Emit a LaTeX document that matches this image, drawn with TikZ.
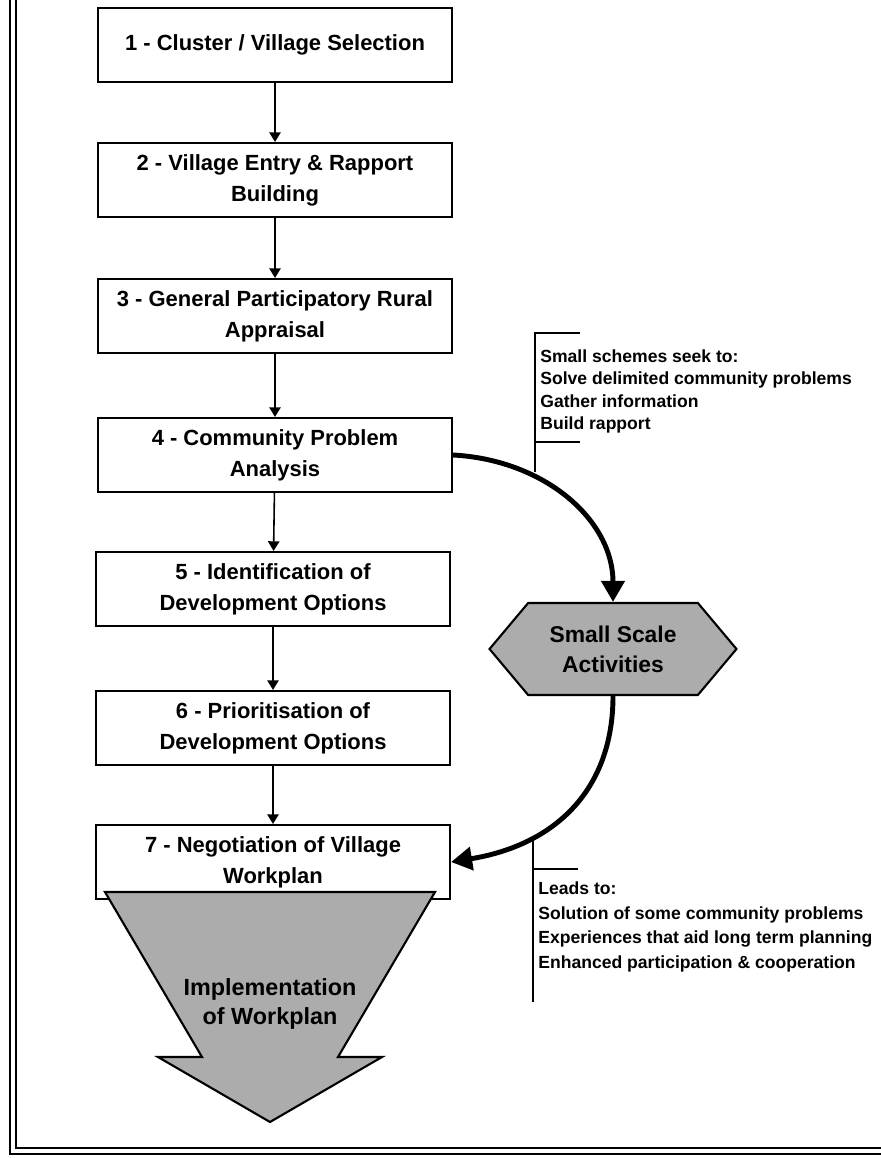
\documentclass[tikz,border=0pt]{standalone}
\usepackage{fontspec}
\setmainfont{Liberation Sans}
\usetikzlibrary{arrows.meta, shapes.symbols, positioning}

\begin{document}
\begin{tikzpicture}[x=0.02cm, y=-0.02cm,
  stage/.style={draw, line width=1.2pt, fill=white, minimum width=7.08cm, minimum height=1.48cm,
    align=center, font=\fontsize{12.5}{17.5}\selectfont\bfseries},
  flow/.style={-{Triangle[length=5.5pt,width=6.5pt]}, line width=0.9pt},
  bigflow/.style={-{Triangle[length=12pt,width=13pt]}, line width=2.8pt},
  note/.style={anchor=north west, align=left, inner sep=0pt, font=\fontsize{10}{12.8}\selectfont\bfseries},
  shade/.style={draw, line width=1.2pt, fill=gray!65}]
\useasboundingbox (0,0) rectangle (881,1158);

% frame
\draw[line width=1.5pt] (16,0) -- (16,1148) -- (881,1148);
\draw[line width=1.5pt] (10,0) -- (10,1154) -- (881,1154);

% stages
\node[stage] (s1) at (275,45) {1 - Cluster / Village Selection};
\node[stage] (s2) at (275,180) {2 - Village Entry \& Rapport\\Building};
\node[stage] (s3) at (275,316) {3 - General Participatory Rural\\Appraisal};
\node[stage] (s4) at (275,455) {4 - Community Problem\\Analysis};
\node[stage] (s5) at (273,589) {5 - Identification of\\Development Options};
\node[stage] (s6) at (273,728) {6 - Prioritisation of\\Development Options};
\node[stage] (s7) at (273,862) {7 - Negotiation of Village\\Workplan};

\draw[flow] (s1) -- (s2);
\draw[flow] (s2) -- (s3);
\draw[flow] (s3) -- (s4);
\draw[flow] (s4) -- (s5);
\draw[flow] (s5) -- (s6);
\draw[flow] (s6) -- (s7);

% implementation arrow
\draw[shade] (105,892) -- (435,892) -- (338,1057) -- (382,1057) -- (270,1122)
  -- (158,1057) -- (202,1057) -- cycle;
\node[align=center, font=\fontsize{13.3}{16}\selectfont\bfseries] (impl) at (270,1004) {Implementation\\of Workplan};

% small scale activities
\node[shade, signal, signal to=east and west, signal pointer angle=100,
  minimum width=4.94cm, minimum height=1.84cm, align=center,
  font=\fontsize{13}{17}\selectfont\bfseries] (act) at (613,649) {Small Scale\\Activities};

\draw[bigflow] (s4.east) .. controls (545,460) and (613,520) .. (act.north);
\draw[bigflow] (act.south) .. controls (613,790) and (555,845) .. (s7.east);

% notes
\node[note] (seek) at (540,349) {Small schemes seek to:\\Solve delimited community problems\\Gather information\\Build rapport};
\draw[line width=0.9pt] (580,333) -- (535,333) -- (535,472);
\draw[line width=0.9pt] (535,442) -- (580,442);

\node[note, font=\fontsize{10}{14.2}\selectfont\bfseries] (leads) at (538,881) {Leads to:\\Solution of some community problems\\Experiences that aid long term planning\\Enhanced participation \& cooperation};
\draw[line width=0.9pt] (578,869) -- (533,869);
\draw[line width=0.9pt] (533,838) -- (533,1002);
\end{tikzpicture}
\end{document}
